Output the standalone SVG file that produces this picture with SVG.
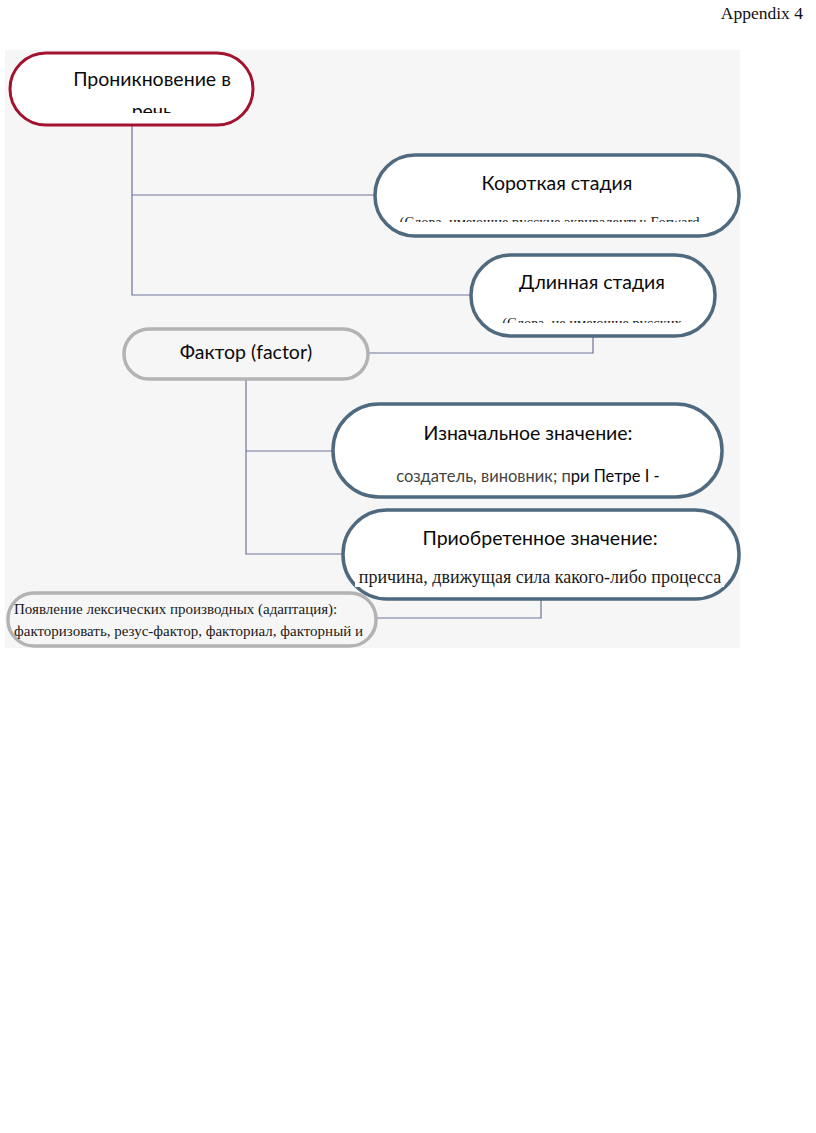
<svg xmlns="http://www.w3.org/2000/svg" width="816" height="1133" viewBox="0 0 816 1133">
<style>
.bg{fill:#f6f6f6}
.red{fill:#ffffff;stroke:#a3122e;stroke-width:3}
.blue{fill:#ffffff;stroke:#4f6a7e;stroke-width:3.5}
.gray{fill:#f6f6f6;stroke:#b3b3b3;stroke-width:3.5}
.t{font-family:Lato,"Open Sans",sans-serif;fill:#0a0a0a}
.s{font-family:"Liberation Serif",serif;fill:#1a1a1a}
.c{fill:none;stroke:#6e7299;stroke-width:1.2}
</style>
<defs>
<clipPath id="k1"><rect x="0" y="0" width="816" height="113"/></clipPath>
<clipPath id="k2"><rect x="0" y="0" width="816" height="222"/></clipPath>
<clipPath id="k3"><rect x="0" y="0" width="816" height="323"/></clipPath>
</defs>
<rect width="816" height="1133" fill="#ffffff"/>
<text x="803" y="19" text-anchor="end" font-family="Liberation Serif,serif" font-size="17.5" fill="#111">Appendix 4</text>
<rect class="bg" x="5" y="50" width="735" height="598"/>
<g id="connectors">
<polyline class="c" points="132,125 132,295 471,295"/>
<polyline class="c" points="132,195 375,195"/>
<polyline class="c" points="593,336 593,353 368,353"/>
<polyline class="c" points="246,379 246,554 343,554"/>
<polyline class="c" points="246,451 333,451"/>
<polyline class="c" points="541,599 541,618 376,618"/>
</g>
<g id="n1">
<rect class="red" x="10" y="53" width="243" height="72" rx="36"/>
<g clip-path="url(#k1)">
<text class="t" x="152" y="86" text-anchor="middle" font-size="19.5">Проникновение в</text>
<text class="t" x="152" y="118" text-anchor="middle" font-size="19.5">речь</text>
</g>
</g>
<g id="n2">
<rect class="blue" x="375" y="155" width="364" height="81" rx="40"/>
<text class="t" x="557" y="190" text-anchor="middle" font-size="19.5">Короткая стадия</text>
<g clip-path="url(#k2)"><text class="s" x="555" y="227" text-anchor="middle" font-size="14.5">(Слова, имеющие русские эквиваленты: Forward –</text></g>
</g>
<g id="n3">
<rect class="blue" x="471" y="255" width="244" height="81" rx="40"/>
<text class="t" x="592" y="289" text-anchor="middle" font-size="19.5">Длинная стадия</text>
<g clip-path="url(#k3)"><text class="s" x="592" y="328" text-anchor="middle" font-size="14.5">(Слова, не имеющие русских</text></g>
</g>
<g id="n4">
<rect class="gray" x="124" y="329" width="244" height="50" rx="25"/>
<text class="t" x="246" y="359" text-anchor="middle" font-size="19.5">Фактор (factor)</text>
</g>
<g id="n5">
<rect class="blue" x="333" y="404" width="389" height="93" rx="46"/>
<text class="t" x="528" y="440" text-anchor="middle" font-size="19.5">Изначальное значение:</text>
<rect x="393" y="464" width="180" height="22" fill="#ffffff"/>
<text class="t" x="528" y="482" text-anchor="middle" font-size="16.5"><tspan fill="#444">создатель, виновник; п</tspan><tspan fill="#0a0a0a">ри Петре I -</tspan></text>
</g>
<g id="n6">
<rect class="blue" x="343" y="510" width="396" height="89" rx="44"/>
<text class="t" x="540" y="545" text-anchor="middle" font-size="19.5">Приобретенное значение:</text>
<rect x="355" y="565" width="369" height="22" fill="#ffffff"/>
<text class="s" x="540" y="583" text-anchor="middle" font-size="18">причина, движущая сила какого-либо процесса</text>
</g>
<g id="n7">
<rect class="gray" x="8" y="593" width="368" height="53" rx="26"/>
<text class="s" x="14" y="614" font-size="15">Появление лексических производных (адаптация):</text>
<text class="s" x="14" y="636" font-size="15">факторизовать, резус-фактор, факториал, факторный и</text>
</g>
</svg>
